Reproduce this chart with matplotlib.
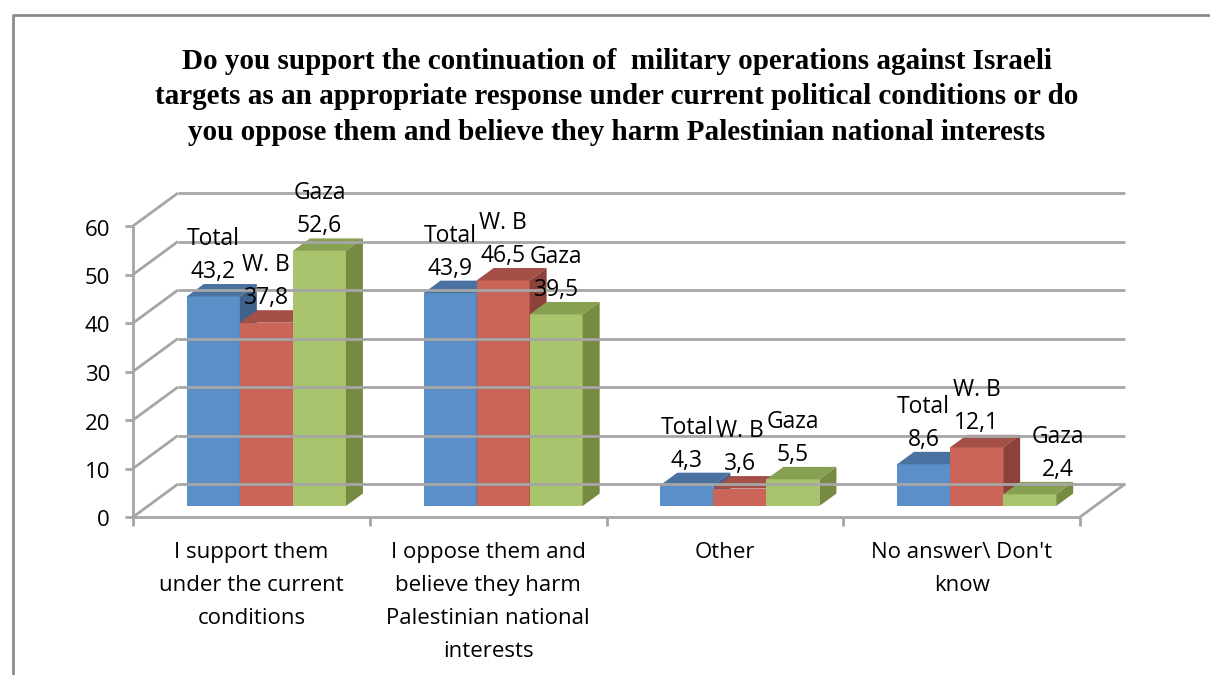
import numpy as np
import matplotlib
matplotlib.use('Agg')
import matplotlib.pyplot as plt
from matplotlib.patches import Polygon

categories = ['I support them\nunder the current\nconditions',
              'I oppose them and\nbelieve they harm\nPalestinian national\ninterests',
              'Other',
              "No answer\\ Don't\nknow"]
series = ['Total', 'W. B', 'Gaza']
total = [43.2, 43.9, 4.3, 8.6]
wb = [37.8, 46.5, 3.6, 12.1]
gaza = [52.6, 39.5, 5.5, 2.4]
yticks = [0, 10, 20, 30, 40, 50, 60]

title = ('Do you support the continuation of  military operations against Israeli\n'
         'targets as an appropriate response under current political conditions or do\n'
         'you oppose them and believe they harm Palestinian national interests')

front_cols = ['#5b8fc8', '#cb655a', '#a9c46c']
top_cols = ['#4a72a0', '#a44f47', '#88a052']
side_cols = ['#3f628c', '#8c423b', '#768a42']
grid_col = '#a6a6a6'
lab_font = 'Open Sans'
fs = 16

W, H = 1210, 675
fig = plt.figure(figsize=(W / 100, H / 100), dpi=100)
# axes = plane of the bar fronts
ax = fig.add_axes([148 / W, (H - 506) / H, 947 / W, 291 / H])
ax.set_xlim(0, 4)
ax.set_ylim(0, 60)
ax.axis('off')
ax.set_zorder(5)

# depth vector (pixels, display coords) per unit of depth
DX, DY = 15.0, 11.0
to_fig = fig.transFigure.inverted()


def pt(x, y, d=0.0):
    px, py = ax.transData.transform((x, y))
    return to_fig.transform((px + d * DX, py + d * DY))


def line(p0, p1, **kw):
    fig.add_artist(plt.Line2D([p0[0], p1[0]], [p0[1], p1[1]],
                              transform=fig.transFigure, **kw))


def poly(pts, **kw):
    fig.add_artist(Polygon(pts, closed=True, transform=fig.transFigure, **kw))


F, B = -1.0, 2.0  # front edge / back wall depth
gkw = dict(color=grid_col, lw=2.0, solid_capstyle='butt')

# back wall gridlines and left wall diagonals
for v in yticks:
    line(pt(0, v, B), pt(4, v, B), **gkw)
    line(pt(0, v, F), pt(0, v, B), **gkw)
# floor
line(pt(0, 0, F), pt(4, 0, F), **gkw)
line(pt(4, 0, F), pt(4, 0, B), **gkw)
# front value axis
line(pt(0, 0, F), pt(0, 60, F), **gkw)
for v in yticks:
    a = pt(0, v, F)
    line(a, (a[0] - 8 / W, a[1]), **gkw)
    fig.text(a[0] - 23 / W, a[1] - 4 / H, str(v), ha='right', va='center',
             fontsize=fs, family=lab_font, color='black')
# category ticks and labels
for i in range(5):
    a = pt(i, 0, F)
    line(a, (a[0], a[1] - 9 / H), **gkw)
for i, c in enumerate(categories):
    a = pt(i + 0.5, 0, F)
    fig.text(a[0], a[1] - 25 / H, c, ha='center', va='top', fontsize=fs,
             family=lab_font, linespacing=1.75)

# 3D bars
bw = 0.224
depth = 17 / DX
data = [total, wb, gaza]
lab_dx = {(2, 3): 28}
for i in range(4):
    x0 = i + 0.5 - 1.5 * bw
    for s in range(3):
        v = data[s][i]
        l, r = x0 + s * bw, x0 + (s + 1) * bw
        poly([pt(l, 0), pt(r, 0), pt(r, v), pt(l, v)], fc=front_cols[s], ec='none')
        poly([pt(l, v), pt(r, v), pt(r, v, depth), pt(l, v, depth)], fc=top_cols[s], ec='none')
        poly([pt(r, 0), pt(r, 0, depth), pt(r, v, depth), pt(r, v)], fc=side_cols[s], ec='none')
        ax.annotate('%s\n%s' % (series[s], ('%.1f' % v).replace('.', ',')),
                    xy=(l + bw / 2, v), xytext=(lab_dx.get((s, i), 0) * 0.72, 9),
                    textcoords='offset points', ha='center', va='bottom',
                    fontsize=16.5, family=lab_font, linespacing=1.5,
                    annotation_clip=False)

fig.text(617 / W, 1 - 97 / H, title, ha='center', va='center', fontsize=21,
         family='Liberation Serif', fontweight='bold', linespacing=1.4)

# chart border
fig.add_artist(plt.Line2D([13 / W, 13 / W, 1.0], [0, 1 - 15 / H, 1 - 15 / H],
                          transform=fig.transFigure, color='#8c8c8c', lw=2))

fig.savefig('out.png', dpi=100)
